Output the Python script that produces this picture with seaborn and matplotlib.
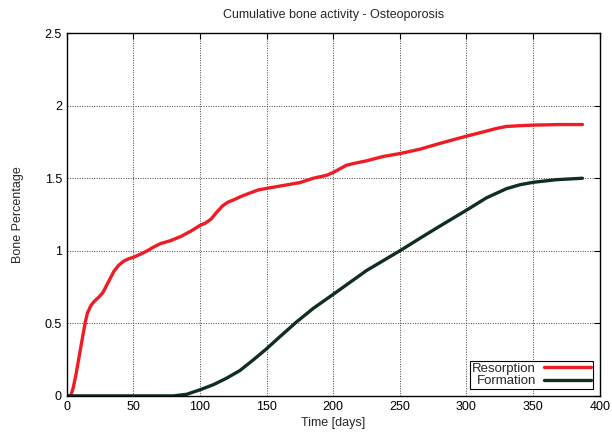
import pandas as pd
import seaborn as sns
import matplotlib
matplotlib.use("Agg")
import matplotlib.pyplot as plt
from matplotlib.ticker import FormatStrFormatter

# data
resorption_days = [0, 3, 5, 7, 9.5, 12, 14, 15.5, 18, 20.5, 24, 27, 31, 35.5, 39, 43,
                   46.5, 50, 55, 60.5, 65, 70.5, 78, 86, 94, 100, 104, 108.5, 112,
                   117, 121, 125, 131, 138, 144, 150, 162.5, 175, 180, 185, 190, 195,
                   200, 205, 210, 217, 225, 237.5, 250, 265, 280, 300, 315, 322, 330,
                   340, 350, 370, 387]
resorption = [0, 0, 0.06, 0.15, 0.28, 0.41, 0.51, 0.57, 0.62, 0.65, 0.68, 0.71, 0.78,
              0.86, 0.90, 0.93, 0.945, 0.955, 0.975, 1.0, 1.025, 1.05, 1.07, 1.10,
              1.14, 1.175, 1.19, 1.22, 1.26, 1.31, 1.335, 1.35, 1.375, 1.40, 1.42,
              1.43, 1.45, 1.47, 1.485, 1.50, 1.51, 1.52, 1.54, 1.565, 1.59, 1.605,
              1.62, 1.65, 1.67, 1.70, 1.74, 1.79, 1.825, 1.842, 1.857, 1.862, 1.866,
              1.87, 1.87]

formation_days = [0, 70, 80, 90, 100, 110, 120, 130, 140, 150, 160, 172.5, 185, 200,
                  212.5, 225, 237.5, 250, 267.5, 280, 300, 315, 330, 340, 350, 367.5,
                  387]
formation = [0, 0, 0, 0.011, 0.042, 0.077, 0.122, 0.175, 0.248, 0.325, 0.408, 0.51,
             0.603, 0.70, 0.782, 0.864, 0.932, 1.0, 1.10, 1.17, 1.28, 1.365, 1.428,
             1.455, 1.472, 1.49, 1.50]

series_names = ["Resorption", "Formation"]
series_colors = ["#ee1c25", "#0f2f1f"]

df = pd.concat([
    pd.DataFrame({"day": resorption_days, "value": resorption, "series": series_names[0]}),
    pd.DataFrame({"day": formation_days, "value": formation, "series": series_names[1]}),
])

sns.set_style("white")
plt.rcParams["font.family"] = ["Liberation Sans", "DejaVu Sans"]

fig = plt.figure(figsize=(6.12, 4.36), dpi=100)
ax = fig.add_axes([0.109, 0.092, 0.871, 0.832])

sns.lineplot(data=df, x="day", y="value", hue="series", palette=series_colors,
             estimator=None, sort=False, linewidth=2.4, ax=ax,
             solid_joinstyle="round", solid_capstyle="round")

ax.set_xlim(0, 400)
ax.set_ylim(0, 2.5)
ax.set_xticks(range(0, 401, 50))
ax.set_yticks([0, 0.5, 1, 1.5, 2, 2.5])
ax.yaxis.set_major_formatter(FormatStrFormatter("%g"))
ax.grid(True, linestyle=(0, (1, 1.5)), color="#444444", linewidth=0.7)
ax.tick_params(direction="in", top=True, right=True, length=4, width=0.8,
               labelsize=9, colors="black")
for s in ax.spines.values():
    s.set_color("black")
    s.set_linewidth(1.0)

ax.set_title("Cumulative bone activity - Osteoporosis", fontsize=9, pad=11)
ax.set_xlabel("Time [days]", fontsize=9, labelpad=3)
ax.set_ylabel("Bone Percentage", fontsize=9, labelpad=15)

leg = ax.legend(loc="lower right", markerfirst=False, fontsize=9.5, frameon=True,
                fancybox=False, edgecolor="black", framealpha=1,
                borderpad=0.15, labelspacing=0.0, handlelength=3.6,
                handletextpad=0.6, borderaxespad=0.5)
leg.get_frame().set_linewidth(0.8)
for t in leg.get_texts():
    t.set_ha("right")

fig.savefig("out.png", dpi=100)
